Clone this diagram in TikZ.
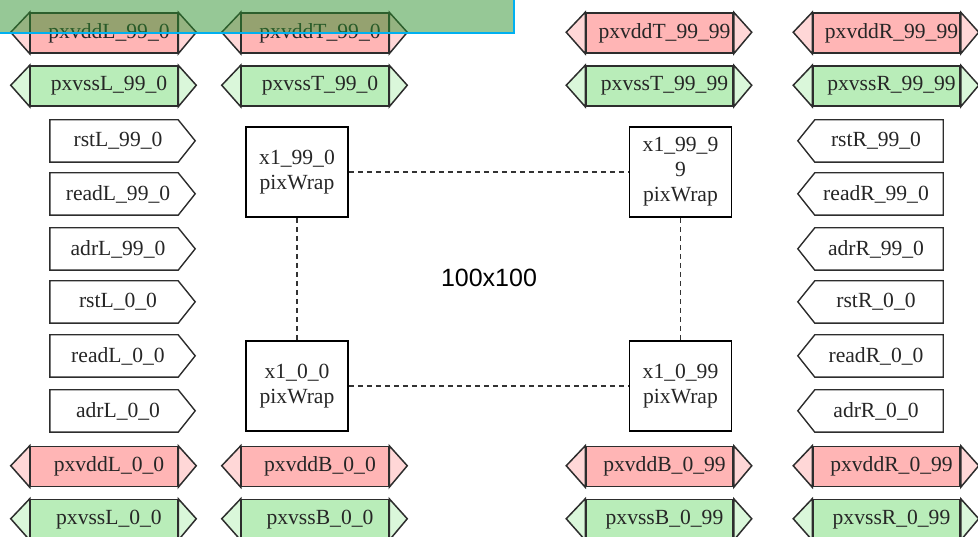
\documentclass[tikz,border=0pt]{standalone}
\usepackage{fontspec}
\setmainfont{Liberation Serif}
\newfontfamily\lsans{Liberation Sans}
\usepackage{tikz}
\usetikzlibrary{calc}
\definecolor{vddbody}{RGB}{255,181,181}
\definecolor{vddtip}{RGB}{255,215,215}
\definecolor{vssbody}{RGB}{185,237,185}
\definecolor{vsstip}{RGB}{218,247,218}
\definecolor{padline}{RGB}{45,45,45}
\definecolor{selgreen}{RGB}{45,145,45}
\definecolor{selcyan}{RGB}{0,176,240}
\tikzset{
	padfont/.style={font=\fontsize{21.6}{25}\selectfont, text=black!85},
	pwrbody/.style={draw=padline, line width=1.5pt, padfont, minimum width=147, minimum height=40, inner sep=0pt},
	pwrtip/.style={draw=padline, line width=1.5pt, line join=miter},
	sigbody/.style={padfont, minimum width=128, minimum height=42, inner sep=0pt},
	sigline/.style={draw=padline, line width=1.4pt},
	pixbox/.style={draw, line width=1.8pt, padfont, align=center, minimum width=102, minimum height=90, inner sep=0pt},
	pixlink/.style={line width=1.2pt, dash pattern=on 5pt off 4pt, black!80}
}
% power pad: name, x, y, text, vdd/vss
\newcommand{\pwrpad}[5]{%
	\node[pwrbody, fill=#5body] (#1) at (#2,#3) {\hspace*{10pt}#4};
	\filldraw[pwrtip, fill=#5tip] (#1.north west) -- ++(-19,20) -- (#1.south west) -- cycle;
	\filldraw[pwrtip, fill=#5tip] (#1.north east) -- ++(18,20) -- (#1.south east) -- cycle;
}

\begin{document}
\begin{tikzpicture}[x=1pt,y=-1pt]
	\useasboundingbox (0,0) rectangle (978,537);
	\def\xl{114} % left signal pads
	\def\xr{879} % right signal pads
	% supply pads, vdd on top of vss
	\foreach \x/\y/\s [count=\i] in {104/33/L\_99\_0, 315/33/T\_99\_0, 659.5/33/T\_99\_99, 886.5/33/R\_99\_99, 104/466.5/L\_0\_0, 315/466.5/B\_0\_0, 659.5/466.5/B\_0\_99, 886.5/466.5/R\_0\_99} {
		\pwrpad{vdd\i}{\x}{\y}{pxvdd\s}{vdd}
		\pwrpad{vss\i}{\x}{\y+53}{pxvss\s}{vss}
	}
	% signal pads
	\foreach \y/\t [count=\i] in {141/rstL\_99\_0, 194/readL\_99\_0, 249/adrL\_99\_0, 302/rstL\_0\_0, 356/readL\_0\_0, 411/adrL\_0\_0} {
		\node[sigbody] (sigL\i) at (\xl,\y) {\hspace*{8pt}\t};
		\draw[sigline] (sigL\i.north west) -- (sigL\i.north east) -- ++(17,21) -- (sigL\i.south east) -- (sigL\i.south west) -- cycle;
	}
	\foreach \y/\t [count=\i] in {141/rstR\_99\_0, 194/readR\_99\_0, 249/adrR\_99\_0, 302/rstR\_0\_0, 356/readR\_0\_0, 411/adrR\_0\_0} {
		\node[sigbody] (sigR\i) at (\xr,\y) {\t\hspace*{6pt}};
		\draw[sigline] (sigR\i.north east) -- (sigR\i.north west) -- ++(-17,21) -- (sigR\i.south west) -- (sigR\i.south east) -- cycle;
	}
	% pixel corners
	\node[pixbox] (pix990) at (297,172) {x1\_99\_0\\pixWrap};
	\node[pixbox] (pix9999) at (680.5,172) {x1\_99\_9\\9\\pixWrap};
	\node[pixbox] (pix00) at (297,386) {x1\_0\_0\\pixWrap};
	\node[pixbox] (pix099) at (680.5,386) {x1\_0\_99\\pixWrap};
	\draw[pixlink] (pix990) -- (pix9999);
	\draw[pixlink] (pix00) -- (pix099);
	\draw[pixlink] (pix990) -- (pix00);
	\draw[pixlink] (pix9999) -- (pix099);
	\node[font=\lsans\fontsize{25}{30}\selectfont] (arrsize) at (489,278) {100x100};
	% selection overlay
	\fill[selgreen, fill opacity=0.5] (0,0) rectangle (514,33);
	\draw[selcyan, line width=2pt] (0,33) -- (514,33) -- (514,0);
\end{tikzpicture}
\end{document}
